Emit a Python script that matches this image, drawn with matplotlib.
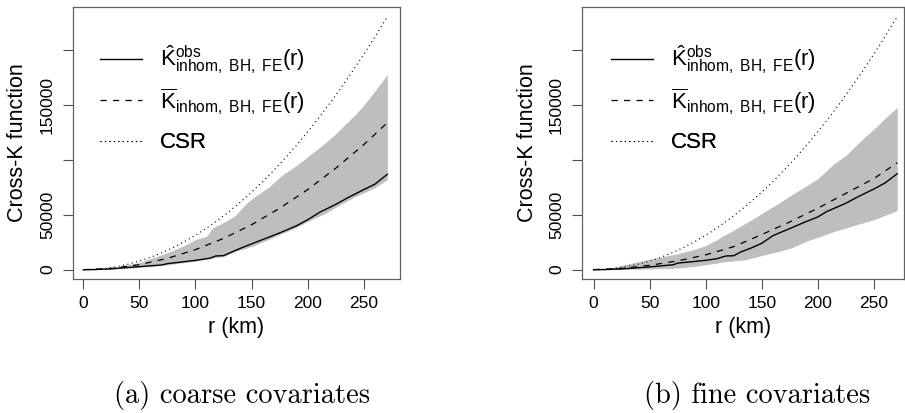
import numpy as np
import matplotlib
matplotlib.use("Agg")
import matplotlib.pyplot as plt

plt.rcParams['font.family'] = ['Liberation Sans', 'DejaVu Sans']
plt.rcParams['mathtext.fontset'] = 'custom'
plt.rcParams['mathtext.rm'] = 'Liberation Sans'
plt.rcParams['mathtext.it'] = 'Liberation Sans:italic'

# distance grid for the envelopes (km)
r_band = [0, 10, 25, 50, 75, 90, 100, 110, 115, 125, 135, 145, 152, 165, 177,
          190, 200, 215, 225, 243, 250, 260, 271]

# (a) coarse covariates
r_obs_a = [0, 10, 25, 50, 70, 75, 100, 113, 118, 125, 140, 150, 175, 190, 200,
           211, 225, 235, 250, 260, 271]
k_obs_a = [0, 100, 800, 2800, 4300, 5500, 8500, 10500, 12500, 12800, 19500, 23500,
           33500, 40000, 45500, 52500, 59500, 65200, 73000, 78000, 87000]
r_mean_a = [0, 25, 50, 75, 100, 125, 150, 175, 200, 225, 250, 271]
k_mean_a = [0, 1100, 4600, 10300, 18300, 28500, 41000, 56000, 73000, 92500, 114000, 134000]
hi_a = [0, 200, 1800, 6500, 15500, 22000, 27500, 30500, 38000, 43000, 49000, 60000,
        66000, 75000, 86000, 95000, 103000, 115000, 124000, 142000, 150000, 163000, 178000]
lo_a = [0, 50, 500, 2000, 4500, 6500, 7800, 9500, 10500, 12000, 16500, 19500, 22000,
        27500, 33000, 38500, 44000, 51000, 57000, 67000, 70000, 75000, 82000]

# (b) fine covariates
r_obs_b = [0, 10, 25, 50, 71, 75, 100, 110, 118, 125, 131, 140, 150, 160, 175, 190,
           200, 208, 225, 235, 250, 260, 271]
k_obs_b = [0, 100, 700, 2500, 4500, 6000, 8500, 10000, 12500, 12700, 16000, 19500,
           24000, 31000, 37500, 44000, 48000, 53000, 60500, 66000, 73500, 79000, 87500]
r_mean_b = [0, 25, 50, 75, 100, 125, 150, 175, 200, 225, 250, 271]
k_mean_b = [0, 1100, 4000, 8000, 13500, 21000, 32000, 43500, 56000, 69500, 83000, 97500]
hi_b = [0, 600, 4000, 9500, 14500, 18500, 22000, 27300, 30500, 36000, 42000, 48000,
        52500, 60500, 68500, 76500, 83000, 97000, 104000, 122000, 128000, 138000, 148000]
lo_b = [0, 50, 300, 700, 1500, 3000, 4500, 6000, 7000, 8000, 9000, 11500, 13500,
        16500, 20000, 26000, 29500, 35000, 38000, 43500, 45500, 49500, 54000]

# CSR reference curve
r_csr = [0, 10, 20, 30, 40, 50, 60, 70, 80, 90, 100, 110, 120, 130, 140, 150, 160,
         170, 180, 190, 200, 210, 220, 230, 240, 250, 260, 270, 271]
k_csr = [0, 314, 1257, 2827, 5027, 7854, 11310, 15394, 20106, 25447, 31416, 38013,
         45239, 53093, 61575, 70686, 80425, 90792, 101788, 113411, 125664, 138544,
         152053, 166190, 180956, 196350, 212372, 229022, 230722]

yticks = [0, 50000, 100000, 150000, 200000]
ytick_labels = ["0", "50000", "", "150000", ""]
xticks = [0, 50, 100, 150, 200, 250]

lab_obs = r'$\hat{\mathrm{K}}_{\mathrm{inhom,\ BH,\ FE}}^{\mathrm{obs}}(\mathrm{r})$'
lab_mean = r'$\overline{\mathrm{K}}_{\mathrm{inhom,\ BH,\ FE}}(\mathrm{r})$'

# legend row heights (axes fraction)
leg_rows = [0.805, 0.655, 0.5]

fig = plt.figure(figsize=(9.05, 4.13), dpi=100)
ax_a = fig.add_axes([73/905, 1-279/413, 327/905, 272/413])
ax_b = fig.add_axes([582/905, 1-279/413, 322/905, 272/413])

panels = [
    (ax_a, r_obs_a, k_obs_a, r_mean_a, k_mean_a, hi_a, lo_a, (-9.2, 282.3), 0.083),
    (ax_b, r_obs_b, k_obs_b, r_mean_b, k_mean_b, hi_b, lo_b, (-10.4, 277), 0.09),
]

for ax, r_obs, k_obs, r_mean, k_mean, hi, lo, xl, leg_x in panels:
    ax.fill_between(r_band, lo, hi, color='#bebebe', linewidth=0)
    ax.plot(r_obs, k_obs, color='black', lw=1.0, label=lab_obs)
    ax.plot(r_mean, k_mean, color='black', lw=0.9, linestyle=(0, (5, 5)), label=lab_mean)
    ax.plot(r_csr, k_csr, color='black', lw=0.8, linestyle=(0, (1, 3)), label='CSR')

    ax.set_xlim(*xl)
    ax.set_ylim(-8500, 239500)
    ax.set_xticks(xticks)
    ax.set_yticks(yticks)
    ax.set_yticklabels(ytick_labels, rotation=90, va='center')
    ax.tick_params(axis='both', direction='out', length=7, width=0.8,
                   color='#505050', labelsize=12.5)
    ax.tick_params(axis='y', pad=6)
    ax.tick_params(axis='x', pad=5)
    for sp in ax.spines.values():
        sp.set_color('#606060')
        sp.set_linewidth(0.9)

    ax.set_xlabel("r (km)", fontsize=15.5)
    ax.set_ylabel("Cross-K function", fontsize=15.5)
    ax.xaxis.set_label_coords(0.5, -0.18)
    ax.xaxis.label.set_va('center')
    ax.yaxis.set_label_coords(-0.17, 0.5)
    ax.yaxis.label.set_va('center')

    # one legend per row so the rows are evenly spaced like the original
    handles, labels = ax.get_legend_handles_labels()
    for h, lab, yrow in zip(handles, labels, leg_rows):
        leg = ax.legend([h], [lab], loc='center left', bbox_to_anchor=(leg_x, yrow),
                        frameon=False, fontsize=16, handlelength=1.9,
                        handletextpad=0.8, borderpad=0, borderaxespad=0)
        ax.add_artist(leg)

fig.text(242/905, 1-395/413, "(a) coarse covariates", ha='center', va='center',
         fontsize=20.5, family='cmr10')
fig.text(757/905, 1-395/413, "(b) fine covariates", ha='center', va='center',
         fontsize=20.5, family='cmr10')

fig.savefig("out.png", dpi=100)
